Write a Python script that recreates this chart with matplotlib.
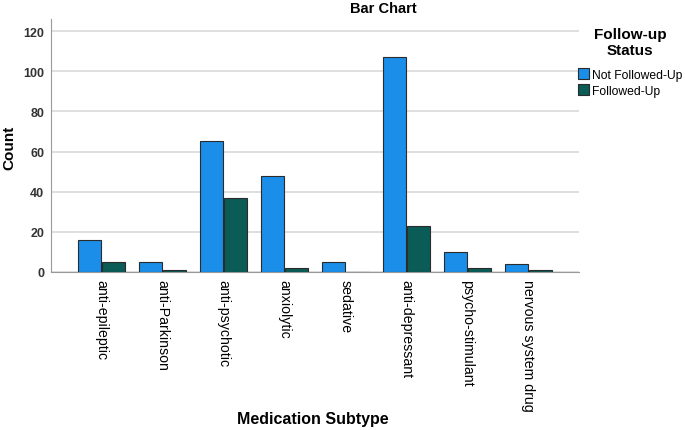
import matplotlib
matplotlib.use('Agg')
import matplotlib.pyplot as plt
import numpy as np

categories = ['anti-epileptic', 'anti-Parkinson', 'anti-psychotic', 'anxiolytic',
              'sedative', 'anti-depressant', 'psycho-stimulant', 'nervous system drug']
not_followed = [16, 5, 65, 48, 5, 107, 10, 4]
followed = [5, 1, 37, 2, 0, 23, 2, 1]
yticks = [0, 20, 40, 60, 80, 100, 120]

plt.rcParams['font.family'] = ['Liberation Sans', 'DejaVu Sans']

fig = plt.figure(figsize=(6.85, 4.31), dpi=100)
ax = fig.add_axes([0.0745, 0.3666, 0.7705, 0.587])

x = np.arange(len(categories))
w = 0.375
ax.bar(x - w/2 - 0.01, not_followed, w, color='#1a8ee8', edgecolor='#2b2b2b', linewidth=0.8,
       label='Not Followed-Up', zorder=3)
ax.bar(x + w/2 + 0.01, followed, w, color='#0b5c57', edgecolor='#2b2b2b', linewidth=0.8,
       label='Followed-Up', zorder=3)

ax.set_xlim(-0.83, 7.83)
ax.set_ylim(0, 126)
ax.set_yticks(yticks)
ax.set_yticklabels([str(v) for v in yticks], fontsize=9, fontweight='bold', color='#333333')
ax.set_xticks(x)
ax.set_xticklabels(categories, rotation=270, fontsize=10.2, va='top', ha='center')
ax.tick_params(axis='both', length=0, pad=5)
ax.grid(axis='y', color='#d9d9d9', linewidth=1.2, zorder=0)
for s in ['top', 'right']:
    ax.spines[s].set_visible(False)
for s in ['left', 'bottom']:
    ax.spines[s].set_color('#999999')

fig.text(0.559, 0.995, 'Bar Chart', ha='center', va='top', fontsize=10.5, fontweight='bold')
fig.text(0.457, 0.01, 'Medication Subtype', ha='center', va='bottom', fontsize=11.5, fontweight='bold')
fig.text(0.003, 0.657, 'Count', ha='left', va='center', rotation=90, fontsize=11, fontweight='bold')

handles, labels = ax.get_legend_handles_labels()
leg = fig.legend(handles, labels, loc='upper left', bbox_to_anchor=(578/685, 1 - 28/431),
                 frameon=False, title='Follow-up\nStatus', fontsize=8.7, handlelength=0.95,
                 handleheight=1.0, handletextpad=0.2, borderpad=0, borderaxespad=0,
                 labelspacing=0.3)
leg.get_title().set_fontweight('bold')
leg.get_title().set_fontsize(11)
leg.get_title().set_multialignment('center')
leg._legend_box.align = 'center'
leg._legend_box.sep = 8

fig.savefig('out.png', dpi=100)
